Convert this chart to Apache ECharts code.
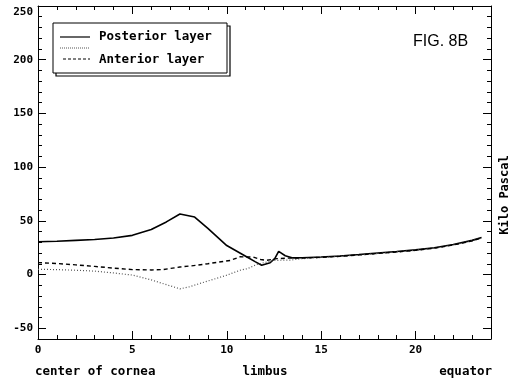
<!DOCTYPE html>
<html>
<head>
<meta charset="utf-8">
<script src="https://cdn.jsdelivr.net/npm/echarts@6/dist/echarts.min.js"></script>
<style>html,body{margin:0;padding:0;background:#fff;}#c{width:513px;height:379px;}</style>
</head>
<body>
<div id="c"></div>
<script>
// Data (x: position, y: Kilo Pascal)
var posterior = [[0,30.5],[1,31],[2,31.8],[3,32.6],[4,34],[5,36.5],[6,42],[6.8,49],[7.52,56.4],[8.3,53.5],[9,43],[10,27],[11,17],[11.5,12],[11.85,8.6],[12.3,11],[12.55,15],[12.75,21.5],[13.1,17.5],[13.5,15.5],[14,15.6],[15,16.3],[16,17.3],[17,18.6],[18,20],[19,21.4],[20,23],[21,25],[22,28],[23,31.8],[23.5,34.5]];
var unlabelled = [[0,4.9],[1,4.6],[2,4],[3,3.2],[4,1.5],[5,-0.5],[6,-5],[7,-10.5],[7.52,-13.3],[8,-11.5],[9,-6],[10,-0.6],[10.7,4],[11.1,5.5],[11.6,9.5],[12.5,13.2],[13.4,13.5],[14,14.8],[15,15.8],[16,16.9],[17,18.2],[18,19.6],[19,21],[20,22.6],[21,24.6],[22,27.5],[23,31.3],[23.5,34]];
var anterior = [[0,11.1],[1,10.3],[2,9],[3,7.6],[4,6],[5,4.6],[6,4.3],[6.6,4.6],[7.52,7],[8.4,8.6],[9,10.1],[10.2,13.2],[10.7,16.5],[11.4,16.3],[11.8,14],[12.1,13.2],[12.66,14.8],[13.2,15.3],[14,15.4],[15,16],[16,17],[17,18.3],[18,19.6],[19,21],[20,22.6],[21,24.6],[22,27.5],[23,31.3],[23.5,34]];
var xMajor = [0,5,10,15,20];
var xMinor = [0,1,2,3,4,5,6,7,8,9,10,11,12,13,14,15,16,17,18,19,20,21,22,23,24];
var yMajor = [-50,0,50,100,150,200,250];
var yMinor = [-60,-50,-40,-30,-20,-10,0,10,20,30,40,50,60,70,80,90,100,110,120,130,140,150,160,170,180,190,200,210,220,230,240,250];

var mono = 'DejaVu Sans Mono';
var lab = {fontFamily: mono, fontWeight: 'bold', fontSize: 11, color: '#000'};
function line(show) {
  return {show: show, onZero: false, lineStyle: {color: '#000', width: 1}};
}

function xAx(pos, vals, len, labels, ln) {
  return {type: 'value', position: pos, min: 0, max: 24,
    axisLine: line(ln), splitLine: {show: false},
    axisTick: {show: true, inside: true, length: len, customValues: vals, lineStyle: {color: '#000'}},
    axisLabel: labels ? Object.assign({show: true, margin: 6, customValues: xMajor}, lab) : {show: false}};
}
function yAx(pos, vals, len, labels, ln) {
  return {type: 'value', position: pos, min: -60, max: 250,
    axisLine: line(ln), splitLine: {show: false},
    axisTick: {show: true, inside: true, length: len, customValues: vals, lineStyle: {color: '#000'}},
    axisLabel: labels ? Object.assign({show: true, margin: 5, customValues: yMajor,
      formatter: function (v) { return v === 250 ? '{t|250}' : String(v); },
      rich: {t: {fontFamily: mono, fontWeight: 'bold', fontSize: 11, color: '#000', padding: [12, 0, 0, 0]}}}, lab) : {show: false}};
}

var chart = echarts.init(document.getElementById('c'), null, {renderer: 'canvas'});
chart.setOption({
  animation: false,
  backgroundColor: '#fff',
  grid: {left: 38, right: 22, top: 6, bottom: 40, containLabel: false},
  xAxis: [xAx('bottom', xMajor, 8, true, true), xAx('bottom', xMinor, 4, false, false),
          xAx('top', xMajor, 8, false, true), xAx('top', xMinor, 4, false, false)],
  yAxis: [yAx('left', yMajor, 8, true, true), yAx('left', yMinor, 4, false, false),
          yAx('right', yMajor, 8, false, true), yAx('right', yMinor, 4, false, false)],
  series: [
    {name: 'Posterior layer', type: 'line', data: posterior, showSymbol: false, symbol: 'none',
      lineStyle: {color: '#000', width: 1.6, type: 'solid'}},
    {name: 'unlabelled', type: 'line', data: unlabelled, showSymbol: false, symbol: 'none',
      lineStyle: {color: '#555', width: 1.2, type: [1, 2]}},
    {name: 'Anterior layer', type: 'line', data: anterior, showSymbol: false, symbol: 'none',
      lineStyle: {color: '#000', width: 1.4, type: [4, 3]}}
  ],
  graphic: [
    {type: 'rect', shape: {x: 56, y: 26, width: 174, height: 50}, style: {fill: '#fff', stroke: '#000', lineWidth: 1.2}, z: 10},
    {type: 'rect', shape: {x: 53, y: 23, width: 174, height: 50}, style: {fill: '#fff', stroke: '#000', lineWidth: 1}, z: 11},
    {type: 'line', shape: {x1: 60, y1: 37, x2: 90, y2: 37}, style: {stroke: '#000', lineWidth: 1.2}, z: 12},
    {type: 'line', shape: {x1: 60, y1: 48, x2: 90, y2: 48}, style: {stroke: '#555', lineWidth: 1, lineDash: [1, 1]}, z: 12},
    {type: 'line', shape: {x1: 63, y1: 59, x2: 90, y2: 59}, style: {stroke: '#000', lineWidth: 1, lineDash: [3, 2]}, z: 12},
    {type: 'text', x: 99, y: 37, style: {text: 'Posterior layer', fontFamily: mono, fontWeight: 'bold', fontSize: 12.5, fill: '#000', verticalAlign: 'middle'}, z: 12},
    {type: 'text', x: 99, y: 60, style: {text: 'Anterior layer', fontFamily: mono, fontWeight: 'bold', fontSize: 12.5, fill: '#000', verticalAlign: 'middle'}, z: 12},
    {type: 'text', x: 413, y: 42, style: {text: 'FIG. 8B', fontFamily: 'Liberation Sans', fontSize: 16, fill: '#000', verticalAlign: 'middle'}, z: 12},
    {type: 'text', x: 35, y: 372, style: {text: 'center of cornea', fontFamily: mono, fontWeight: 'bold', fontSize: 12.5, fill: '#000', verticalAlign: 'middle'}},
    {type: 'text', x: 265, y: 372, style: {text: 'limbus', fontFamily: mono, fontWeight: 'bold', fontSize: 12.5, fill: '#000', align: 'center', verticalAlign: 'middle'}},
    {type: 'text', x: 492, y: 372, style: {text: 'equator', fontFamily: mono, fontWeight: 'bold', fontSize: 12.5, fill: '#000', align: 'right', verticalAlign: 'middle'}},
    {type: 'text', x: 505, y: 195, rotation: Math.PI / 2, style: {text: 'Kilo Pascal', fontFamily: mono, fontWeight: 'bold', fontSize: 12, fill: '#000', align: 'center', verticalAlign: 'middle'}}
  ]
});
</script>
</body>
</html>
